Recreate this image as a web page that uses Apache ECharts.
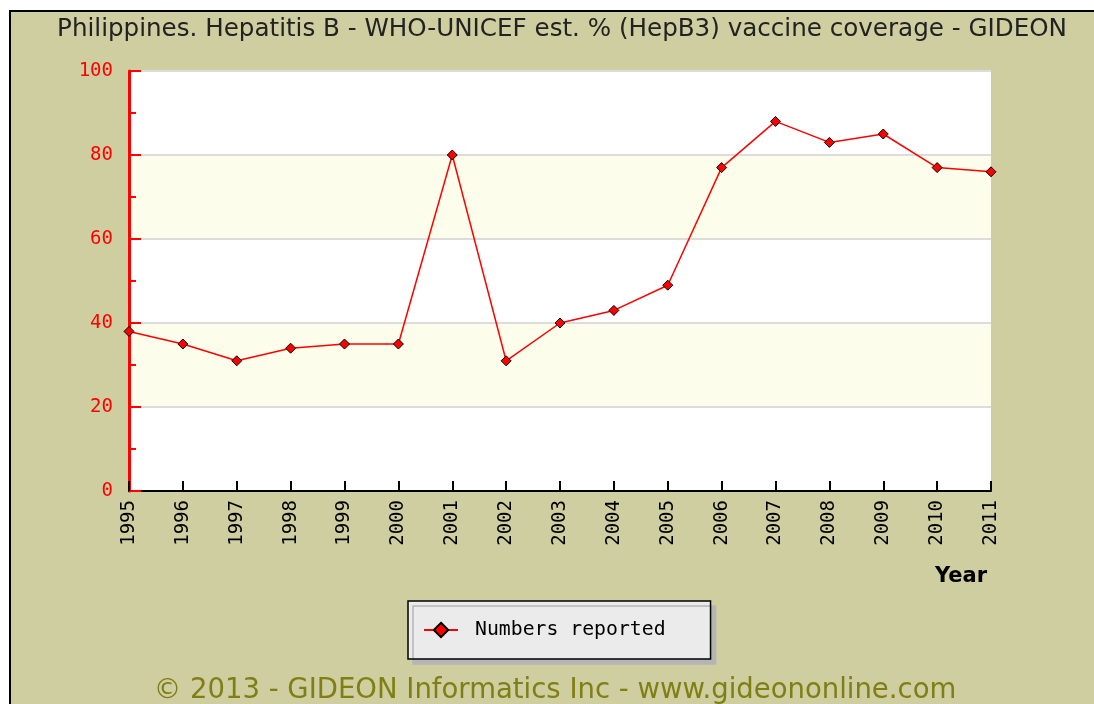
<!DOCTYPE html>
<html>
<head>
<meta charset="utf-8">
<script src="https://cdn.jsdelivr.net/npm/echarts@6/dist/echarts.min.js"></script>
<style>
html,body{margin:0;padding:0;background:#fff;}
#chart{width:1094px;height:704px;}
</style>
</head>
<body>
<div id="chart"></div>
<script>
const years = ['1995','1996','1997','1998','1999','2000','2001','2002','2003','2004','2005','2006','2007','2008','2009','2010','2011'];
const coverage = [38, 35, 31, 34, 35, 35, 80, 31, 40, 43, 49, 77, 88, 83, 85, 77, 76];
const seriesName = 'Numbers reported';
const titleText = 'Philippines. Hepatitis B - WHO-UNICEF est. % (HepB3) vaccine coverage - GIDEON';
const footerText = '\u00A9 2013 - GIDEON Informatics Inc - www.gideononline.com';
const axisName = 'Year';

const chart = echarts.init(document.getElementById('chart'), null, {renderer: 'canvas'});
const mono = '"DejaVu Sans Mono", monospace';
const sans = '"DejaVu Sans", Verdana, sans-serif';
chart.setOption({
  backgroundColor: '#ffffff',
  animation: false,
  graphic: {
    elements: [{
      type: 'rect', z: -100, silent: true,
      shape: {x: 10, y: 11, width: 1200, height: 800},
      style: {fill: '#CFCEA0', stroke: '#000', lineWidth: 2}
    }]
  },
  title: [
    {text: titleText, left: 557, top: 12, textAlign: 'center',
     textStyle: {fontFamily: sans, fontSize: 24.6, fontWeight: 'normal', color: '#222'}},
    {text: footerText, left: 550, top: 672, textAlign: 'center',
     textStyle: {fontFamily: sans, fontSize: 27.5, fontWeight: 'normal', color: '#7f7f14'}},
    {text: axisName, left: 956, top: 561, textAlign: 'center',
     textStyle: {fontFamily: sans, fontSize: 21, fontWeight: 'bold', color: '#000'}}
  ],
  legend: {
    left: 408, top: 601,
    padding: [19, 45, 19, 15],
    itemWidth: 34, itemHeight: 18, itemGap: 10,
    backgroundColor: '#EBEBEB', borderColor: '#000', borderWidth: 1.5,
    shadowColor: '#b5b5b5', shadowBlur: 0, shadowOffsetX: 5, shadowOffsetY: 5,
    textStyle: {fontFamily: mono, fontSize: 19.8, color: '#000', padding: [0, 0, 0, 12]},
    data: [seriesName]
  },
  grid: {left: 129, right: 103, top: 71, bottom: 213, containLabel: false},
  xAxis: {
    type: 'category', data: years, boundaryGap: false,
    axisLine: {lineStyle: {color: '#000', width: 2}},
    axisTick: {inside: true, length: 10, lineStyle: {color: '#000', width: 2}},
    axisLabel: {rotate: 90, margin: 9, fontFamily: mono, fontSize: 19, color: '#000'},
    splitLine: {show: false}
  },
  yAxis: {
    type: 'value', min: 0, max: 100, interval: 20,
    axisLine: {show: true, lineStyle: {color: '#ff0000', width: 3}},
    axisTick: {show: true, inside: true, length: 12, lineStyle: {color: '#ff0000', width: 2}},
    minorTick: {show: true, splitNumber: 2, length: 7, lineStyle: {color: '#ff0000', width: 2}},
    axisLabel: {margin: 16, fontFamily: mono, fontSize: 19, color: '#ff0000'},
    splitLine: {show: true, lineStyle: {color: '#dcdcdc', width: 2}},
    splitArea: {show: true, areaStyle: {color: ['#ffffff', '#FDFDEB']}}
  },
  series: [{
    name: seriesName, type: 'line', data: coverage,
    symbol: 'diamond', symbolSize: 10, showSymbol: true,
    lineStyle: {color: '#ff0000', width: 1.5},
    itemStyle: {color: '#ff0000', borderColor: '#000', borderWidth: 1},
    z: 5
  }]
});
</script>
</body>
</html>
